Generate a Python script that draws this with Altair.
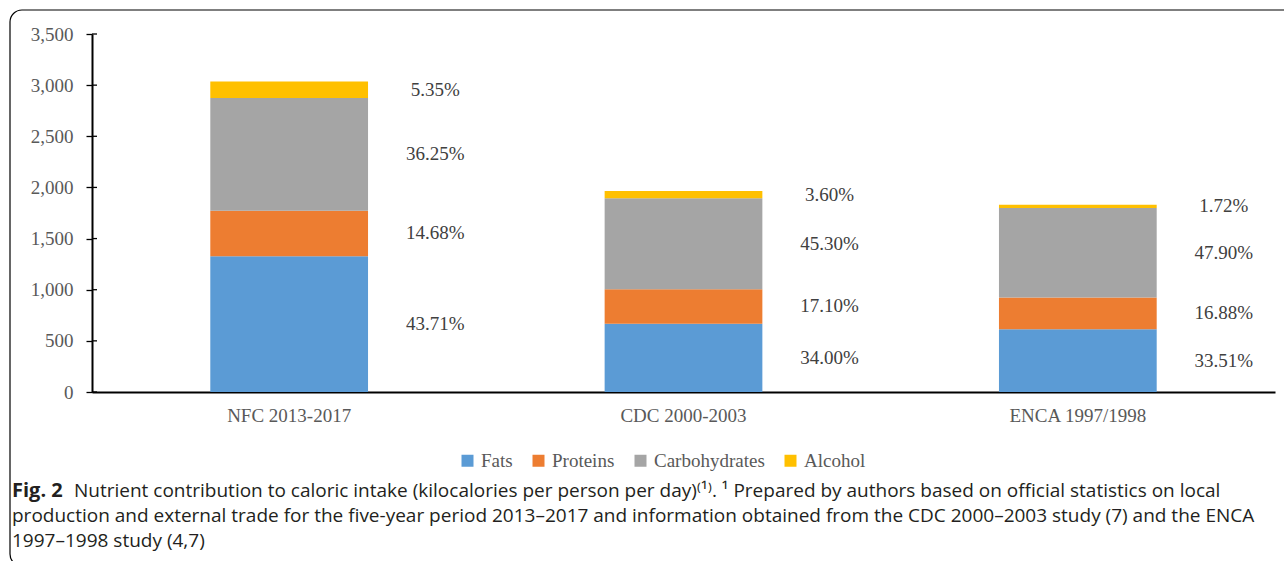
import altair as alt
import pandas as pd

# ---- data ----
categories = ["NFC 2013-2017", "CDC 2000-2003", "ENCA 1997/1998"]
nutrients = ["Fats", "Proteins", "Carbohydrates", "Alcohol"]
colors = ["#5B9BD5", "#ED7D31", "#A5A5A5", "#FFC000"]

fats_kcal = [1327, 668, 614]
proteins_kcal = [446, 336, 309]
carbs_kcal = [1101, 890, 877]
alcohol_kcal = [162, 71, 31]

fats_pct = ["43.71%", "34.00%", "33.51%"]
proteins_pct = ["14.68%", "17.10%", "16.88%"]
carbs_pct = ["36.25%", "45.30%", "47.90%"]
alcohol_pct = ["5.35%", "3.60%", "1.72%"]

y_ticks = [0, 500, 1000, 1500, 2000, 2500, 3000, 3500]

caption_label = "Fig. 2"
caption_line1 = ("Nutrient contribution to caloric intake (kilocalories per person per day)"
                 "\u207d\u00b9\u207e. \u00b9 Prepared by authors based on official statistics on local")
caption_line2 = ("production and external trade for the five-year period 2013\u20132017 and information "
                 "obtained from the CDC 2000\u20132003 study (7) and the ENCA")
caption_line3 = "1997\u20131998 study (4,7)"

# ---- table ----
kcal = [fats_kcal, proteins_kcal, carbs_kcal, alcohol_kcal]
pct = [fats_pct, proteins_pct, carbs_pct, alcohol_pct]
rows = []
for ni, n in enumerate(nutrients):
    for ci, c in enumerate(categories):
        rows.append({"category": c, "nutrient": n, "order": ni,
                     "kcal": kcal[ni][ci], "pct": pct[ni][ci]})
df = pd.DataFrame(rows)

SERIF = "Liberation Serif"
SANS = "Open Sans"
AX_COLOR = "#595959"

x_axis = alt.Axis(labelFont=SERIF, labelFontSize=19, labelColor=AX_COLOR,
                  labelAngle=0, ticks=False, tickSize=0, labelPadding=14,
                  domainColor="black", domainWidth=2)
x_scale = alt.Scale(paddingInner=0.6, paddingOuter=0.3)
y_axis = alt.Axis(values=y_ticks, format=",d", grid=False,
                  labelFont=SERIF, labelFontSize=19, labelColor=AX_COLOR,
                  tickColor="black", tickSize=6, tickWidth=1.3, labelPadding=13,
                  domainColor="black", domainWidth=2)
y_scale = alt.Scale(domain=[0, 3500], nice=False)

def x_enc():
    return alt.X("category:N", sort=categories, title=None, scale=x_scale, axis=x_axis)

base = alt.Chart(df).transform_stack(
    stack="kcal", groupby=["category"], as_=["y0", "y1"],
    sort=[alt.SortField("order", order="ascending")]
).transform_calculate(mid="(datum.y0 + datum.y1) / 2")

bars = base.mark_bar().encode(
    x=x_enc(),
    y=alt.Y("y0:Q", scale=y_scale, title=None, axis=y_axis),
    y2="y1:Q",
    color=alt.Color("nutrient:N", scale=alt.Scale(domain=nutrients, range=colors),
                    legend=alt.Legend(title=None, orient="none", legendX=366, legendY=417,
                                      direction="horizontal", symbolType="square",
                                      symbolSize=144, symbolStrokeWidth=0,
                                      labelFont=SERIF, labelFontSize=19, labelColor=AX_COLOR,
                                      columnPadding=16, labelOffset=4, padding=0)),
)

labels = base.mark_text(dx=146, font=SERIF, fontSize=19, color="#404040").encode(
    x=x_enc(),
    y=alt.Y("mid:Q", scale=y_scale, title=None, axis=y_axis),
    text="pct:N",
)

inner_ticks = alt.Chart(pd.DataFrame({"t": y_ticks})).mark_rule(
    color="black", strokeWidth=1.3).encode(
    y=alt.Y("t:Q", scale=y_scale, title=None, axis=y_axis),
    x=alt.value(0), x2=alt.value(5))

one = pd.DataFrame({"k": [0]})
border = alt.Chart(one).mark_rect(filled=False, stroke="black", strokeWidth=1.2,
                                   cornerRadius=12).encode(
    x=alt.value(-82), x2=alt.value(1215), y=alt.value(-24), y2=alt.value(532))

cap_color = "#231f20"
cap0 = alt.Chart(one).mark_text(text=caption_label, font=SANS, fontSize=20, fontWeight="bold",
                                align="left", baseline="alphabetic", color=cap_color).encode(
    x=alt.value(-80), y=alt.value(463))
cap1 = alt.Chart(one).mark_text(text=caption_line1, font=SANS, fontSize=19,
                                align="left", baseline="alphabetic", color=cap_color).encode(
    x=alt.value(-18), y=alt.value(463))
cap2 = alt.Chart(one).mark_text(text=caption_line2, font=SANS, fontSize=19,
                                align="left", baseline="alphabetic", color=cap_color).encode(
    x=alt.value(-80), y=alt.value(488))
cap3 = alt.Chart(one).mark_text(text=caption_line3, font=SANS, fontSize=19,
                                align="left", baseline="alphabetic", color=cap_color).encode(
    x=alt.value(-80), y=alt.value(513))

chart = alt.layer(border, bars, inner_ticks, labels, cap0, cap1, cap2, cap3).properties(
    width=1183, height=358,
    padding={"left": 92, "top": 34, "right": 9, "bottom": 169},
    autosize=alt.AutoSizeParams(type="none"),
    background="white",
).configure_view(stroke=None)

chart.save("out.html", embed_options={"renderer": "svg", "actions": False})
